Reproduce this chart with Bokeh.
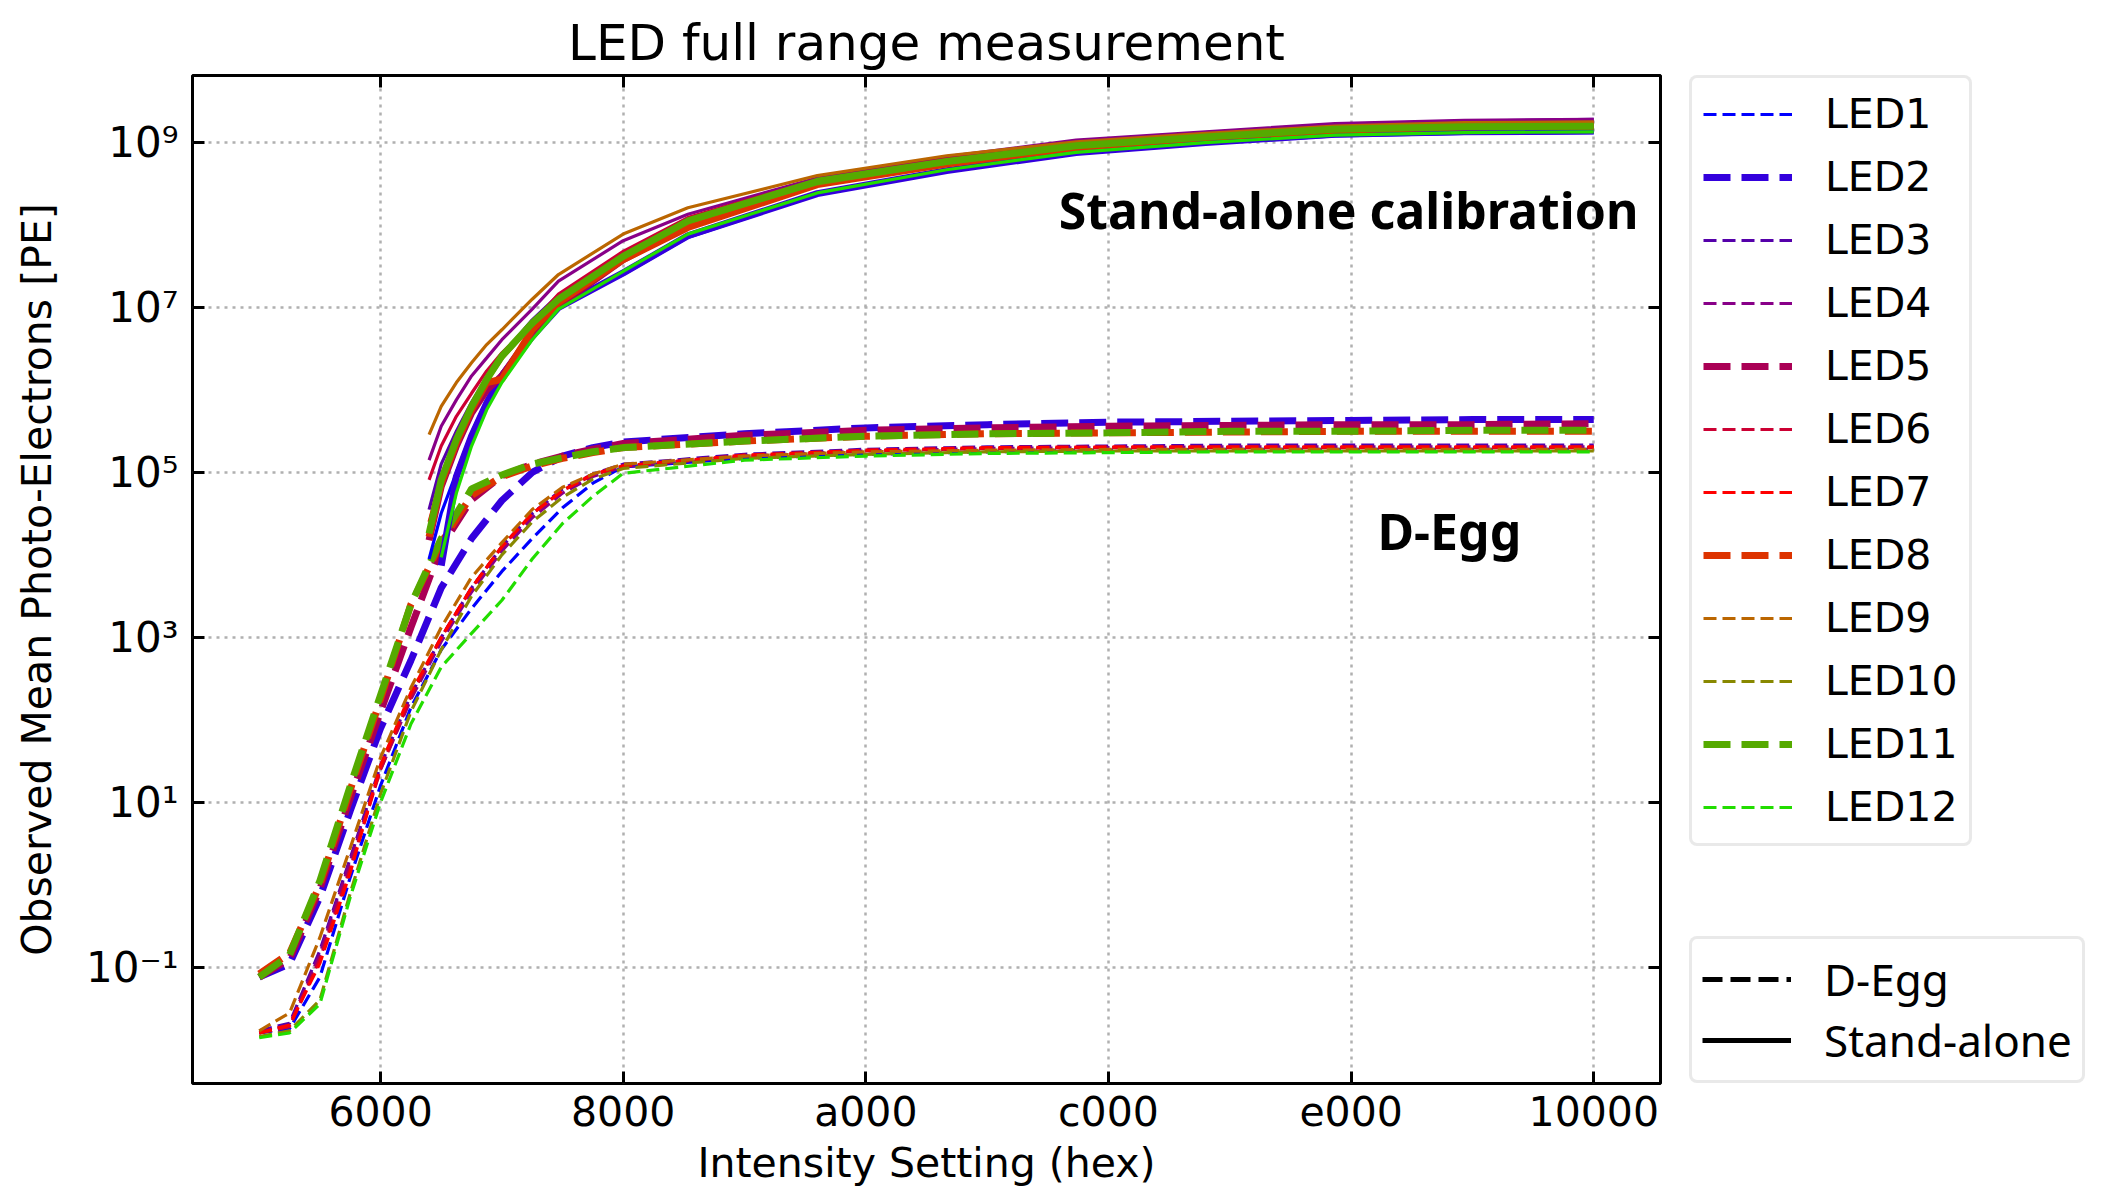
from bokeh.plotting import figure
from bokeh.models import (Range1d, LogAxis, LinearAxis, Legend, LegendItem,
                          FixedTicker, CustomJSTickFormatter, Label, Title)
from bokeh.layouts import row
from bokeh.embed import file_html
from bokeh.resources import INLINE

# ---------------- data ----------------
LED_NAMES = ["LED1", "LED2", "LED3", "LED4", "LED5", "LED6",
             "LED7", "LED8", "LED9", "LED10", "LED11", "LED12"]
LED_COLORS = ["#0000ff", "#3300dd", "#5500aa", "#880088", "#aa0055", "#cc0033",
              "#ff0000", "#dd3300", "#bb6600", "#888800", "#55aa00", "#22dd00"]
THICK = [False, True, False, False, True, False, False, True, False, False, True, False]

X_TICK_LABELS = ["6000", "8000", "a000", "c000", "e000", "10000"]
Y_TICKS = [1e-1, 1e1, 1e3, 1e5, 1e7, 1e9]

# D-Egg measurement (dashed)
DEGG_X = [0x5000, 0x5400, 0x5800, 0x5C00, 0x6000, 0x6400, 0x6800, 0x6C00, 0x7000,
          0x7400, 0x7800, 0x7C00, 0x8000, 0x9000, 0xA000, 0xB000, 0xC000, 0xD000,
          0xE000, 0xF000, 0x10000]
degg_led1 = [1.6e-2, 1.8e-2, 7.6e-2, 1.23, 16, 141, 708, 2240, 6310, 15800, 37200, 74100,
             1.17e5, 1.48e5, 1.66e5, 1.78e5, 1.86e5, 1.9e5, 1.9e5, 1.9e5, 1.9e5]
degg_led2 = [7.6e-2, 0.11, 0.71, 7.9, 79, 525, 3980, 15800, 45700, 1.0e5, 1.58e5, 2.0e5,
             2.34e5, 2.95e5, 3.47e5, 3.8e5, 4.07e5, 4.17e5, 4.27e5, 4.37e5, 4.37e5]
degg_led3 = [1.7e-2, 2.1e-2, 0.16, 2.1, 28, 200, 1000, 3980, 12600, 31600, 63100, 95500,
             1.26e5, 1.66e5, 1.91e5, 2.04e5, 2.09e5, 2.14e5, 2.14e5, 2.14e5, 2.14e5]
degg_led4 = [1.6e-2, 2.0e-2, 0.145, 1.95, 25, 178, 891, 3550, 11200, 28200, 56200, 89100,
             1.17e5, 1.58e5, 1.82e5, 1.95e5, 2.0e5, 2.04e5, 2.04e5, 2.04e5, 2.04e5]
degg_led5 = [7.6e-2, 0.126, 0.89, 11.2, 126, 1320, 12600, 46800, 91200, 1.26e5, 1.58e5, 1.91e5,
             2.24e5, 2.82e5, 3.24e5, 3.47e5, 3.63e5, 3.72e5, 3.8e5, 3.8e5, 3.89e5]
degg_led6 = [1.6e-2, 1.9e-2, 0.126, 1.58, 25, 191, 1000, 3980, 12600, 31600, 60300, 93300,
             1.2e5, 1.58e5, 1.82e5, 1.95e5, 2.0e5, 2.0e5, 2.0e5, 2.0e5, 2.0e5]
degg_led7 = [1.6e-2, 2.0e-2, 0.112, 1.41, 28, 214, 1000, 3980, 12600, 31600, 60300, 95500,
             1.2e5, 1.62e5, 1.86e5, 2.0e5, 2.04e5, 2.04e5, 2.04e5, 2.04e5, 2.04e5]
degg_led8 = [8.3e-2, 0.148, 1.0, 14.1, 178, 2510, 14100, 52500, 89100, 1.2e5, 1.48e5, 1.74e5,
             2.0e5, 2.4e5, 2.75e5, 2.95e5, 3.02e5, 3.09e5, 3.16e5, 3.16e5, 3.16e5]
degg_led9 = [1.7e-2, 2.8e-2, 0.23, 2.8, 35, 245, 1320, 5370, 14100, 35500, 66100, 95500,
             1.26e5, 1.58e5, 1.78e5, 1.86e5, 1.9e5, 1.9e5, 1.9e5, 1.9e5, 1.9e5]
degg_led10 = [1.45e-2, 1.7e-2, 4.0e-2, 0.79, 12.6, 126, 708, 3160, 10000, 25100, 50100, 83200,
              1.12e5, 1.48e5, 1.66e5, 1.78e5, 1.82e5, 1.82e5, 1.82e5, 1.82e5, 1.82e5]
degg_led11 = [7.6e-2, 0.141, 1.12, 15.8, 200, 2510, 15800, 63100, 93300, 1.26e5, 1.51e5, 1.78e5,
              2.0e5, 2.4e5, 2.75e5, 2.95e5, 3.02e5, 3.16e5, 3.16e5, 3.24e5, 3.24e5]
degg_led12 = [1.4e-2, 1.6e-2, 3.6e-2, 0.71, 10, 89, 437, 1120, 2820, 8910, 24000, 51300,
              97700, 1.41e5, 1.58e5, 1.7e5, 1.74e5, 1.78e5, 1.78e5, 1.78e5, 1.78e5]

# Stand-alone calibration (solid)
SA_X = [0x6666, 0x6800, 0x6A00, 0x6C00, 0x6E00, 0x7000, 0x7400, 0x7777, 0x8000,
        0x8888, 0x9999, 0xAAAA, 0xBBBB, 0xCCCC, 0xDDDD, 0xEEEE, 0xFFFF]
SA_X_LATE = [0x6800, 0x6A00, 0x6C00, 0x6E00, 0x7000, 0x7400, 0x7777, 0x8000,
             0x8888, 0x9999, 0xAAAA, 0xBBBB, 0xCCCC, 0xDDDD, 0xEEEE, 0xFFFF]
sa_led1 = [8.9e3, 3.2e4, 1.0e5, 3.0e5, 7.6e5, 1.62e6, 4.9e6, 1.05e7, 2.51e7, 7.08e7, 2.34e8,
           4.47e8, 7.41e8, 9.77e8, 1.2e9, 1.29e9, 1.32e9]
sa_led2 = [7.4e3, 8.9e4, 2.75e5, 6.9e5, 1.48e6, 4.47e6, 1.0e7, 2.63e7, 7.41e7, 2.4e8,
           4.57e8, 7.59e8, 1.0e9, 1.26e9, 1.35e9, 1.38e9]
sa_led3 = [3.55e4, 1.26e5, 3.16e5, 7.08e5, 1.41e6, 2.63e6, 7.08e6, 1.41e7, 4.57e7, 1.2e8, 3.47e8,
           6.31e8, 1.0e9, 1.32e9, 1.66e9, 1.82e9, 1.91e9]
sa_led4 = [1.41e5, 3.63e5, 7.59e5, 1.48e6, 2.45e6, 4.07e6, 9.55e6, 2.09e7, 6.46e7, 1.35e8, 3.72e8,
           6.76e8, 1.07e9, 1.35e9, 1.7e9, 1.86e9, 1.91e9]
sa_led5 = [1.51e4, 6.76e4, 2.09e5, 5.25e5, 1.0e6, 1.48e6, 4.9e6, 1.05e7, 3.8e7, 9.77e7, 3.24e8,
           5.75e8, 8.91e8, 1.17e9, 1.45e9, 1.58e9, 1.62e9]
sa_led6 = [8.13e4, 2.09e5, 4.79e5, 9.12e5, 1.7e6, 2.82e6, 6.46e6, 1.45e7, 4.79e7, 1.23e8, 3.55e8,
           6.31e8, 9.55e8, 1.26e9, 1.55e9, 1.7e9, 1.74e9]
sa_led7 = [2.51e4, 8.91e4, 2.51e5, 6.03e5, 1.26e6, 2.4e6, 6.17e6, 1.26e7, 3.98e7, 1.1e8, 3.31e8,
           5.89e8, 9.12e8, 1.2e9, 1.48e9, 1.62e9, 1.66e9]
sa_led8 = [1.66e4, 7.41e4, 2.29e5, 5.75e5, 1.23e6, 1.35e6, 5.37e6, 1.15e7, 3.8e7, 9.33e7, 3.09e8,
           5.5e8, 8.71e8, 1.15e9, 1.41e9, 1.55e9, 1.58e9]
sa_led9 = [2.88e5, 6.31e5, 1.23e6, 2.14e6, 3.55e6, 5.37e6, 1.26e7, 2.51e7, 7.76e7, 1.62e8, 3.98e8,
           6.92e8, 1.02e9, 1.29e9, 1.58e9, 1.74e9, 1.78e9]
sa_led10 = [2.0e4, 7.94e4, 2.4e5, 6.03e5, 1.26e6, 2.4e6, 6.03e6, 1.2e7, 3.98e7, 1.07e8, 3.16e8,
            5.62e8, 8.91e8, 1.15e9, 1.41e9, 1.55e9, 1.58e9]
sa_led11 = [1.82e4, 8.13e4, 2.51e5, 6.31e5, 1.35e6, 2.57e6, 6.46e6, 1.26e7, 4.17e7, 1.12e8, 3.39e8,
            5.89e8, 9.12e8, 1.17e9, 1.45e9, 1.55e9, 1.58e9]
sa_led12 = [9.33e3, 5.62e4, 2.09e5, 5.75e5, 1.23e6, 4.07e6, 9.55e6, 2.75e7, 7.76e7, 2.45e8,
            4.68e8, 7.59e8, 1.0e9, 1.23e9, 1.32e9, 1.35e9]

DEGG_SERIES = [degg_led1, degg_led2, degg_led3, degg_led4, degg_led5, degg_led6,
               degg_led7, degg_led8, degg_led9, degg_led10, degg_led11, degg_led12]
SA_SERIES = [sa_led1, sa_led2, sa_led3, sa_led4, sa_led5, sa_led6,
             sa_led7, sa_led8, sa_led9, sa_led10, sa_led11, sa_led12]
SA_XS = [SA_X, SA_X_LATE, SA_X, SA_X, SA_X, SA_X, SA_X, SA_X, SA_X, SA_X, SA_X, SA_X_LATE]

FONT = "DejaVu Sans"
TITLE = "LED full range measurement"

# ---------------- main figure ----------------
X_LO, X_HI = 18227, 67789
p = figure(width=1670, height=1190, y_axis_type="log",
           x_range=Range1d(X_LO, X_HI), y_range=Range1d(3.9e-3, 6.5e9),
           output_backend="svg", toolbar_location=None,
           min_border_left=192, min_border_right=10, min_border_top=75,
           min_border_bottom=107, title=TITLE)
p.title.align = "center"
p.title.text_font = FONT
p.title.text_font_size = "50px"
p.title.text_font_style = "normal"
p.title.text_color = "black"
p.title.standoff = 8
if "text_line_height" in Title.properties():
    p.title.text_line_height = 0.8

p.outline_line_color = "black"
p.outline_line_width = 3
p.background_fill_color = "white"
p.border_fill_color = "white"

x_ticks = [int(s, 16) for s in X_TICK_LABELS]
xt = FixedTicker(ticks=x_ticks, minor_ticks=[])
yt = FixedTicker(ticks=Y_TICKS, minor_ticks=[])

hex_fmt = CustomJSTickFormatter(code="return tick.toString(16);")
sup_fmt = CustomJSTickFormatter(code="""
const e = Math.round(Math.log10(tick));
const sup = {'-':'\u207b','0':'\u2070','1':'\u00b9','2':'\u00b2','3':'\u00b3','4':'\u2074',
             '5':'\u2075','6':'\u2076','7':'\u2077','8':'\u2078','9':'\u2079'};
return '10' + String(e).split('').map(c => sup[c]).join('');
""")

p.xaxis.ticker = xt
p.yaxis.ticker = yt
p.xaxis.formatter = hex_fmt
p.yaxis.formatter = sup_fmt
for ax in (p.xaxis[0], p.yaxis[0]):
    ax.axis_line_color = None
    ax.major_tick_in = 12
    ax.major_tick_out = 0
    ax.minor_tick_in = 0
    ax.minor_tick_out = 0
    ax.major_tick_line_width = 3
    ax.major_tick_line_color = "black"
    ax.major_label_text_font = FONT
    ax.major_label_text_color = "black"
    ax.axis_label_text_font = FONT
    ax.axis_label_text_font_style = "normal"
    ax.axis_label_text_color = "black"
p.xaxis.major_label_text_font_size = "41px"
p.yaxis.major_label_text_font_size = "42px"
p.xaxis.axis_label = "Intensity Setting (hex)"
p.yaxis.axis_label = "Observed Mean Photo-Electrons [PE]"
p.xaxis.axis_label_text_font_size = "41px"
p.yaxis.axis_label_text_font_size = "41px"
p.xaxis.major_label_standoff = 4
p.xaxis.axis_label_standoff = 0
p.yaxis.major_label_standoff = 14
p.yaxis.axis_label_standoff = 22

blank = CustomJSTickFormatter(code="return '';")
top_ax = LinearAxis(ticker=xt, formatter=blank, axis_line_color=None,
                    major_tick_in=12, major_tick_out=0, minor_tick_in=0, minor_tick_out=0,
                    major_tick_line_width=3, major_label_standoff=0,
                    major_label_text_font_size="1px")
right_ax = LogAxis(ticker=yt, formatter=blank, axis_line_color=None,
                   major_tick_in=12, major_tick_out=0, minor_tick_in=0, minor_tick_out=0,
                   major_tick_line_width=3, major_label_standoff=0,
                   major_label_text_font_size="1px")
p.add_layout(top_ax, "above")
p.add_layout(right_ax, "right")

p.xgrid.ticker = xt
p.ygrid.ticker = yt
for g in (p.xgrid[0], p.ygrid[0]):
    g.grid_line_color = "#b0b0b0"
    g.grid_line_width = 2.5
    g.grid_line_dash = "3 5"

for name, color, thick, ys in zip(LED_NAMES, LED_COLORS, THICK, DEGG_SERIES):
    p.line(DEGG_X, ys, line_color=color, line_width=7 if thick else 3.2,
           line_dash="27 11" if thick else "13 6")
for name, color, thick, xs, ys in zip(LED_NAMES, LED_COLORS, THICK, SA_XS, SA_SERIES):
    p.line(xs, ys, line_color=color, line_width=7 if thick else 3.2)

p.add_layout(Label(x=67044, y=1.53e8, text="Stand-alone calibration", text_align="right",
                   text_baseline="middle", text_font="Noto Sans", text_font_style="bold",
                   text_font_size="50px", text_color="black"))
p.add_layout(Label(x=58233, y=1.95e4, text="D-Egg", text_align="left",
                   text_baseline="middle", text_font="Noto Sans", text_font_style="bold",
                   text_font_size="50px", text_color="black"))

# ---------------- legend panel ----------------
lf = figure(width=432, height=1190, x_range=Range1d(0, 1), y_range=Range1d(0, 1),
            output_backend="svg", toolbar_location=None,
            min_border_left=19, min_border_right=0, min_border_top=61,
            min_border_bottom=94, x_axis_location=None, y_axis_location=None)
lf.title.visible = False
lf.grid.visible = False
lf.outline_line_color = None
lf.background_fill_color = "white"
lf.border_fill_color = "white"

NAN = [float("nan")]
led_items = []
for name, color, thick in zip(LED_NAMES, LED_COLORS, THICK):
    r = lf.line(x=NAN, y=NAN, line_color=color, line_width=7 if thick else 3.2,
                line_dash="27 11" if thick else "13 6")
    led_items.append(LegendItem(label=name, renderers=[r]))
r_d = lf.line(x=NAN, y=NAN, line_color="black", line_width=5, line_dash="20 8")
r_s = lf.line(x=NAN, y=NAN, line_color="black", line_width=5)
kind_items = [LegendItem(label="D-Egg", renderers=[r_d]),
              LegendItem(label="Stand-alone", renderers=[r_s])]

common = dict(glyph_width=89, glyph_height=50, label_height=50,
              label_standoff=33, border_line_color="#d4d4d4", border_line_width=3,
              background_fill_color="white", background_fill_alpha=1.0, margin=0,
              label_text_color="black")
leg1 = Legend(items=led_items, location="top_left", label_text_font=FONT,
              label_text_font_size="41px", spacing=13, padding=11, **common)
leg2 = Legend(items=kind_items, location="bottom_left", label_text_font="Noto Sans",
              label_text_font_size="44px", spacing=1, padding=10, **common)
if "border_radius" in Legend.properties():
    leg1.border_radius = 8
    leg2.border_radius = 8
lf.add_layout(leg1, "center")
lf.add_layout(leg2, "center")

layout = row(p, lf, spacing=0)
open("out.html", "w").write(file_html(layout, INLINE))
